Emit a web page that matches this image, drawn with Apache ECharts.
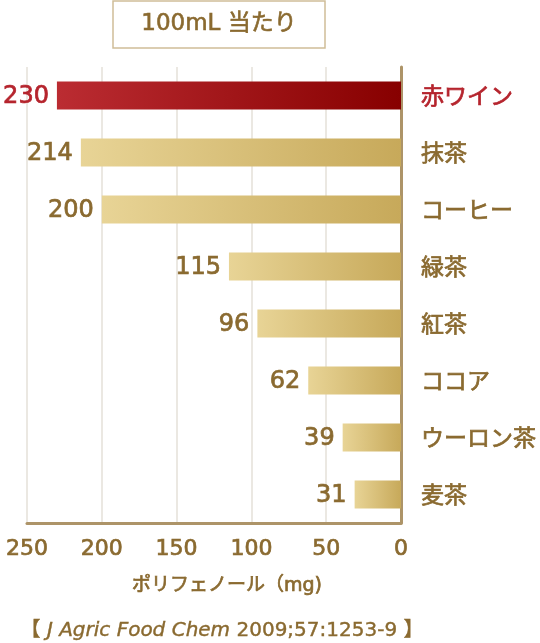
<!DOCTYPE html>
<html><head><meta charset="utf-8">
<script src="https://cdn.jsdelivr.net/npm/echarts@6/dist/echarts.min.js"></script>
<style>html,body{margin:0;padding:0;background:#fff}#c{width:540px;height:643px}</style>
</head><body><div id="c"></div>
<script>
const categories = ['赤ワイン','抹茶','コーヒー','緑茶','紅茶','ココア','ウーロン茶','麦茶'];
const values = [230,214,200,115,96,62,39,31];
const xTicks = [0,50,100,150,200,250];
const titleText = '100mL 当たり';
const axisName = 'ポリフェノール（mg)';
const CJK = '"Noto Sans CJK JP", "Noto Sans", sans-serif';
const NUM = '"DejaVu Sans", "Noto Sans CJK JP", sans-serif';
const BROWN = '#8a6a30';
const RED = '#b5242d';

const chart = echarts.init(document.getElementById('c'), null, {renderer:'canvas'});
const redGrad = new echarts.graphic.LinearGradient(0,0,1,0,[{offset:0,color:'#bb2c32'},{offset:1,color:'#870000'}]);
const goldGrad = new echarts.graphic.LinearGradient(0,0,1,0,[{offset:0,color:'#e8d496'},{offset:1,color:'#c7a95a'}]);

chart.setOption({
  animation:false,
  grid:{left:27,right:139,top:67,bottom:120},
  xAxis:{type:'value',inverse:true,min:0,max:250,interval:50,
    axisLine:{show:true,lineStyle:{color:'#ad9468',width:3}},
    axisTick:{show:false},
    splitLine:{show:true,lineStyle:{color:'#e4e0d9',width:1.5}},
    axisLabel:{color:BROWN,fontSize:22,fontFamily:NUM,margin:15,
      textBorderColor:BROWN,textBorderWidth:0.7,
      formatter:v=>xTicks.includes(v)?String(v):''}
  },
  yAxis:{type:'category',data:categories,inverse:true,position:'right',
    axisLine:{show:true,lineStyle:{color:'#ad9468',width:3}},
    axisTick:{show:false},
    axisLabel:{fontSize:23,fontFamily:CJK,margin:20,align:'left',
      textBorderWidth:0.7,
      rich:{r:{color:RED,textBorderColor:RED,textBorderWidth:0.7,fontSize:23,fontFamily:CJK},
            b:{color:BROWN,textBorderColor:BROWN,textBorderWidth:0.7,fontSize:23,fontFamily:CJK}},
      formatter:(v,i)=>i===0?'{r|'+v+'}':'{b|'+v+'}'}
  },
  series:[{type:'bar',barWidth:28,
    data:values.map((v,i)=>({value:v,itemStyle:{color:i===0?redGrad:goldGrad},
      label:{color:i===0?RED:BROWN,textBorderColor:i===0?RED:BROWN}})),
    label:{show:true,position:'left',distance:8,fontSize:24,fontFamily:NUM,
      textBorderWidth:0.7,offset:[0,1]}
  }],
  graphic:[
    {type:'rect',shape:{x:113,y:1,width:212,height:47},style:{fill:'#fff',stroke:'#cfbd98',lineWidth:1.5}},
    {type:'text',x:219,y:24.5,style:{text:titleText,fill:BROWN,stroke:BROWN,lineWidth:0.6,fontSize:23,fontFamily:NUM,align:'center',verticalAlign:'middle'}},
    {type:'text',x:227,y:586,style:{text:axisName,fill:BROWN,stroke:BROWN,lineWidth:0.7,fontSize:19,fontFamily:NUM,align:'center',verticalAlign:'middle'}},
    {type:'text',x:222,y:631,style:{
      text:'{a|【 }{i|J Agric Food Chem}{a| 2009;57:1253-9 】}',
      align:'center',verticalAlign:'middle',
      rich:{a:{fill:BROWN,stroke:BROWN,lineWidth:0.4,fontSize:20,fontFamily:NUM},
            i:{fill:BROWN,stroke:BROWN,lineWidth:0.4,fontSize:20,fontStyle:'italic',fontFamily:NUM}}
    }}
  ]
});
</script></body></html>
